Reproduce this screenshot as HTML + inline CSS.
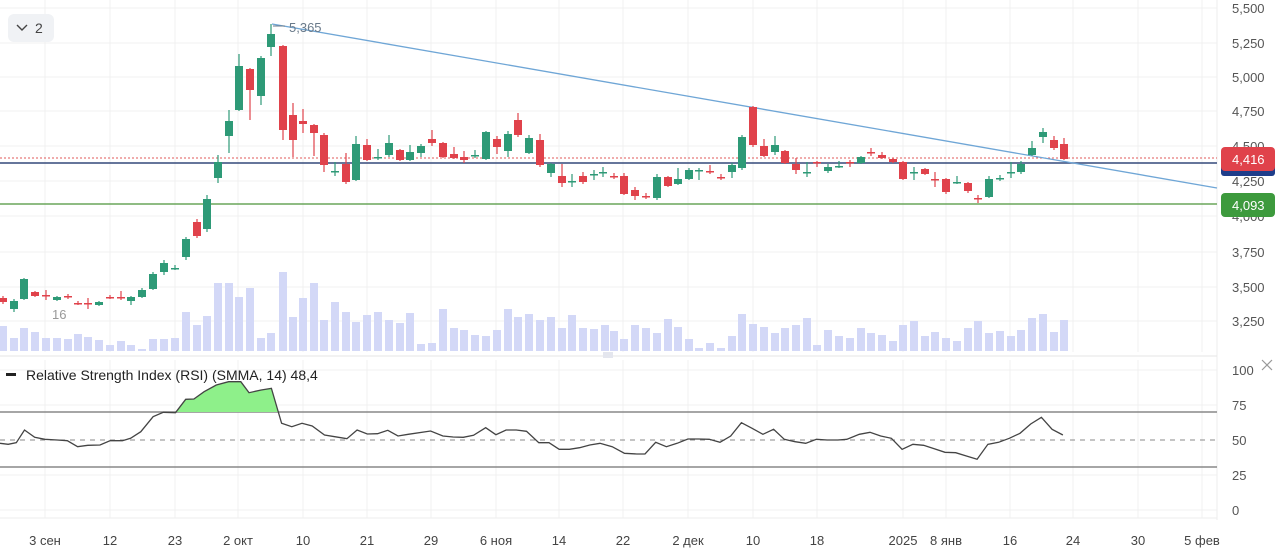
<!DOCTYPE html>
<html><head><meta charset="utf-8"><style>
html,body{margin:0;padding:0;background:#fff;width:1280px;height:558px;overflow:hidden;font-family:"Liberation Sans",sans-serif}
</style></head><body>
<svg id="s" width="1280" height="558" xmlns="http://www.w3.org/2000/svg" font-family="Liberation Sans, sans-serif"></svg>
<script>
const S=document.getElementById('s');let h='';
const GX=[45,110,175,238,303,367,431,496,559,623,688,753,817,903,946,1010,1073,1138,1202];
// vertical grid
GX.forEach(x=>{h+=`<line x1="${x}" y1="0" x2="${x}" y2="352" stroke="#f0f0f0"/><line x1="${x}" y1="360" x2="${x}" y2="518" stroke="#f0f0f0"/>`;});
// horizontal grid price
const PY=[[5500,8],[5250,43],[5000,77],[4750,111],[4500,146],[4250,181],[4000,216],[3750,252],[3500,287],[3250,321]];
PY.forEach(p=>{h+=`<line x1="0" y1="${p[1]}" x2="1217" y2="${p[1]}" stroke="#f0f0f0"/>`;});
[370,405,475,510].forEach(y=>{h+=`<line x1="0" y1="${y}" x2="1217" y2="${y}" stroke="#f0f0f0"/>`;});
h+=`<line x1="1217" y1="0" x2="1217" y2="520" stroke="#eee"/>`;
h+=`<line x1="0" y1="356" x2="1217" y2="356" stroke="#e6e6e6"/><line x1="0" y1="518" x2="1217" y2="518" stroke="#eee"/>`;
// volume
const V=[[3,326],[14,338],[24,328],[35,332],[46,338],[57,338],[68,339],[78,334],[88,337],[99,340],[110,345],[121,341],[131,345],[142,349],[153,339],[164,339],[175,338],[186,312],[197,325],[207,316],[218,283],[229,283],[239,297],[250,288],[261,338],[271,333],[283,272],[293,317],[303,298],[314,283],[324,320],[335,302],[346,312],[356,322],[367,315],[378,312],[389,320],[400,323],[410,313],[421,344],[432,343],[443,309],[454,328],[464,330],[475,335],[486,336],[497,330],[508,309],[518,317],[529,314],[540,320],[551,317],[562,328],[572,315],[583,328],[594,329],[605,325],[614,331],[624,339],[635,325],[646,328],[657,333],[668,319],[678,327],[689,339],[699,348],[710,343],[721,348],[732,336],[742,314],[753,324],[764,327],[775,333],[785,328],[796,325],[807,318],[817,345],[828,330],[839,336],[850,338],[861,328],[871,333],[882,335],[893,341],[903,325],[914,321],[925,336],[935,332],[946,338],[957,341],[968,328],[978,321],[989,333],[1000,331],[1011,336],[1021,330],[1032,318],[1043,314],[1054,332],[1064,320]];
V.forEach(v=>{h+=`<rect x="${v[0]-4}" y="${v[1]}" width="8" height="${351-v[1]}" fill="#d3d8f7"/>`;});
h+=`<rect x="603" y="352" width="10" height="6" fill="#e4e6ee"/>`;
// lines
h+=`<line x1="0" y1="158" x2="1217" y2="158" stroke="#e05a5a" stroke-dasharray="2,2"/>`;
h+=`<line x1="0" y1="163" x2="1217" y2="163" stroke="#34497a" stroke-width="1.5"/>`;
h+=`<line x1="0" y1="204" x2="1217" y2="204" stroke="#6aa55a" stroke-width="1.5"/>`;
h+=`<line x1="272" y1="24" x2="1217" y2="188" stroke="#6fa6d6" stroke-width="1.3"/>`;
// candles: x,color,top,bot,wtop,wbot
const G='#2e9a77',R='#e0424b';
const C=[[3,R,298,302,296,304],[14,G,301,309,299,312],[24,G,279,299,278,300],[35,R,292,296,291,297],[46,R,295,296,290,300],[57,G,297,300,296,301],[68,R,296,297,294,299],[78,R,303,304,301,305],[88,R,303,304,298,309],[99,G,302,305,301,306],[110,R,297,298,295,299],[121,R,297,298,291,300],[131,G,297,301,296,305],[142,G,290,297,288,298],[153,G,274,289,272,290],[164,G,263,272,260,275],[175,G,268,269,265,270],[186,G,239,257,237,260],[197,R,222,236,219,238],[207,G,199,229,195,232],[218,G,162,178,155,183],[229,G,121,136,110,153],[239,G,66,110,54,111],[250,R,69,90,68,120],[261,G,58,96,56,105],[271,G,34,47,24,56],[283,R,46,130,45,140],[293,R,115,140,103,157],[303,R,121,124,109,133],[314,R,125,133,124,156],[324,R,135,165,133,172],[335,G,171,172,162,176],[346,R,164,182,153,184],[356,G,144,180,136,181],[367,R,145,160,139,161],[378,G,157,158,149,160],[389,G,143,155,135,157],[400,R,150,160,149,161],[410,G,152,160,145,161],[421,G,146,153,144,157],[432,R,139,143,130,146],[443,R,143,157,142,158],[454,R,154,158,147,159],[464,R,157,160,151,163],[475,G,155,156,150,158],[486,G,132,159,131,160],[497,R,139,147,136,154],[508,G,134,151,131,157],[518,R,120,135,113,137],[529,G,138,153,135,154],[540,R,140,165,134,167],[551,G,164,173,163,177],[562,R,176,183,164,187],[572,G,181,182,174,187],[583,R,176,182,172,184],[594,G,174,175,170,180],[603,G,172,173,167,177],[614,R,176,177,173,179],[624,R,176,194,173,195],[635,R,190,196,187,200],[646,R,196,197,193,199],[657,G,177,198,174,200],[668,R,177,186,176,187],[678,G,179,184,168,185],[689,G,170,179,168,180],[699,G,170,171,168,180],[710,R,171,172,165,174],[721,R,177,178,174,180],[732,G,165,172,163,178],[742,G,137,168,135,170],[753,R,107,145,106,147],[764,R,146,156,139,157],[775,G,145,152,136,155],[785,R,151,163,150,164],[796,R,164,170,158,174],[807,G,172,173,162,177],[817,R,162,163,161,167],[828,G,167,171,164,173],[839,G,166,167,161,168],[850,R,162,163,160,167],[861,G,157,163,156,164],[871,R,152,153,148,156],[882,R,155,158,152,159],[893,R,159,162,158,163],[903,R,162,179,161,180],[914,G,172,173,167,180],[925,R,169,174,168,175],[935,R,179,180,172,187],[946,R,179,192,178,194],[957,G,182,183,176,184],[968,R,183,191,182,193],[978,R,198,199,195,203],[989,G,179,197,176,198],[1000,G,178,179,175,181],[1011,G,172,173,162,178],[1021,G,164,172,161,174],[1032,G,148,155,141,156],[1043,G,132,137,128,143],[1054,R,140,148,136,150],[1064,R,144,159,138,160]];
C.forEach(c=>{const[x,col,t,b,wt,wb]=c;h+=`<line x1="${x}" y1="${wt}" x2="${x}" y2="${wb}" stroke="${col}" stroke-width="1.2"/><rect x="${x-4}" y="${t}" width="8" height="${Math.max(b-t,1.5)}" fill="${col}"/>`;});
h+=`<text x="289" y="32" font-size="13" fill="#6a7a8a">5,365</text><line x1="273" y1="26" x2="285" y2="26" stroke="#6a7a8a"/>`;
h+=`<text x="52" y="319" font-size="13" fill="#999">16</text>`;
// top-left button
h+=`<rect x="8" y="14" width="46" height="28" rx="6" fill="#f0f2f5"/><polyline points="17,25 22,30 27,25" fill="none" stroke="#444" stroke-width="1.4"/><text x="35" y="33" font-size="14" fill="#444">2</text>`;
// price axis
PY.forEach(p=>{h+=`<text x="1232" y="${p[1]+5}" font-size="13" fill="#555">${p[0].toLocaleString('en-US')}</text>`;});
h+=`<rect x="1221" y="160" width="54" height="16" rx="3" fill="#1e3d8a"/>`;
h+=`<rect x="1221" y="147" width="54" height="24" rx="4" fill="#e0424b"/><text x="1232" y="164" font-size="13" fill="#fff">4,416</text>`;
h+=`<rect x="1221" y="193" width="54" height="24" rx="4" fill="#3d9a3d"/><text x="1232" y="210" font-size="13" fill="#fff">4,093</text>`;
// RSI levels
h+=`<line x1="0" y1="412" x2="1217" y2="412" stroke="#888" stroke-width="1.5"/><line x1="0" y1="467" x2="1217" y2="467" stroke="#888" stroke-width="1.5"/><line x1="0" y1="440" x2="1217" y2="440" stroke="#888" stroke-dasharray="5,5"/>`;
const r1=[[0,280],[20,283],[40,278],[60,240],[85,262],[110,268],[140,270],[165,272],[190,290],[215,286],[245,285],[270,272],[300,272],[320,265],[345,245],[375,200],[400,187],[430,188],[455,148],[475,147],[500,125],[530,105],[560,95],[590,95],[610,128],[640,120],[665,115],[690,220],[715,230],[740,220],[765,228],[795,255],[820,260],[850,266],[875,240],[900,252],[925,251],[950,241],[975,258],[1000,253],[1055,243],[1085,258],[1110,261],[1135,262],[1160,256],[1190,233],[1215,254],[1240,240],[1265,240],[1290,244],[1320,278],[1345,278],[1370,298],[1395,298],[1420,293],[1445,285],[1470,280],[1500,290],[1530,310],[1560,312]].map(p=>[p[0]/2.45,350+p[1]/3]);
const r2=[[20,245],[55,278],[80,278],[110,298],[140,297],[170,292],[200,283],[230,280],[260,290],[290,310],[350,312],[380,277],[410,290],[440,280],[470,267],[500,267],[530,268],[560,277],[590,258],[620,218],[650,235],[680,253],[710,238],[740,268],[770,275],[800,280],[830,268],[860,270],[890,270],[915,268],[950,253],[980,247],[1010,258],[1040,265],[1070,298],[1100,283],[1130,286],[1160,296],[1190,307],[1220,308],[1250,318],[1280,328],[1310,283],[1340,277],[1370,265],[1400,250],[1430,222],[1460,202],[1490,238],[1520,255]].map(p=>[520+p[0]/2.8,350+p[1]/3]);
const pts=r1.concat(r2.filter(p=>p[0]>r1[r1.length-1][0]));
const ps=pts.map(p=>p[0].toFixed(1)+','+p[1].toFixed(1)).join(' ');
h+=`<defs><clipPath id="ob"><rect x="0" y="360" width="1217" height="52"/></clipPath></defs>`;
h+=`<polygon points="${pts[0][0]},412 ${ps} ${pts[pts.length-1][0]},412" fill="#8ef08a" clip-path="url(#ob)"/>`;
h+=`<polyline points="${ps}" fill="none" stroke="#444" stroke-width="1.3"/>`;
// RSI axis
[[100,370],[75,405],[50,440],[25,475],[0,510]].forEach(p=>{h+=`<text x="1232" y="${p[1]+5}" font-size="13" fill="#555">${p[0]}</text>`;});
h+=`<path d="M1262 360 L1272 370 M1272 360 L1262 370" stroke="#999" stroke-width="1.2"/>`;
h+=`<rect x="6" y="373" width="10" height="3" fill="#222"/><text x="26" y="380" font-size="14" fill="#222">Relative Strength Index (RSI) (SMMA, 14)  48,4</text>`;
// x labels
const XL=["3 сен","12","23","2 окт","10","21","29","6 ноя","14","22","2 дек","10","18","2025","8 янв","16","24","30","5 фев"];
XL.forEach((t,i)=>{h+=`<text x="${GX[i]}" y="545" font-size="13" fill="#444" text-anchor="middle">${t}</text>`;});
S.innerHTML=h;
</script>
</body></html>
